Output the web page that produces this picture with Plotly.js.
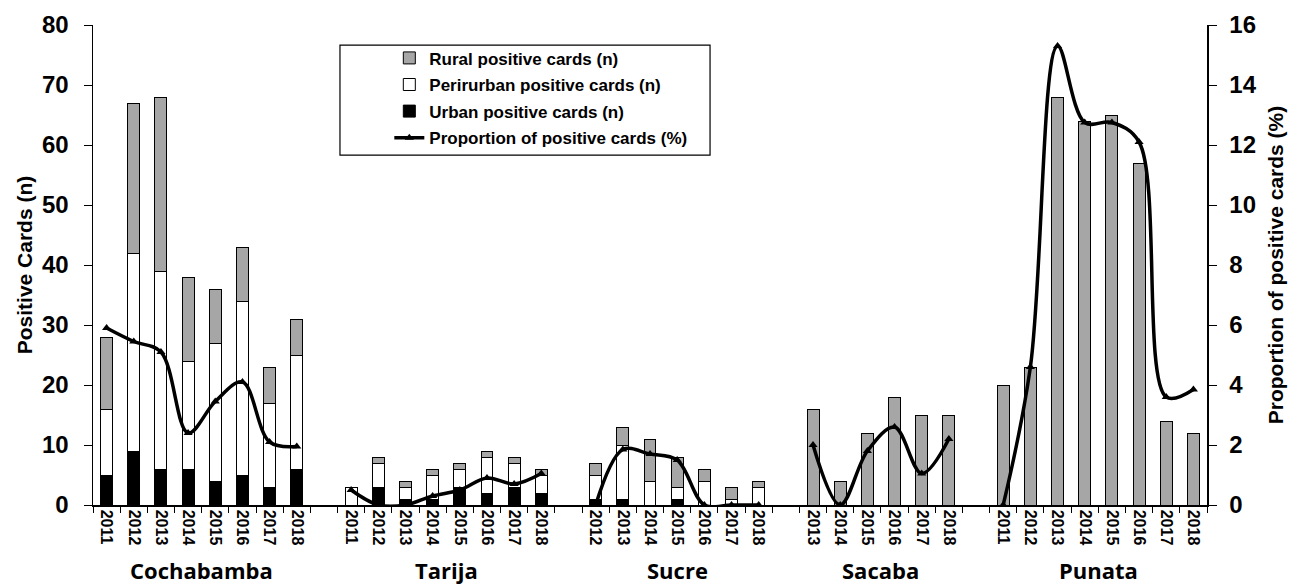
<!DOCTYPE html>
<html>
<head>
<meta charset="utf-8">
<script src="https://cdn.plot.ly/plotly-3.0.1.min.js"></script>
<style>html,body{margin:0;padding:0;background:#fff;}#chart{width:1300px;height:587px;}</style>
</head>
<body>
<div id="chart"></div>
<script>
// ---- Data ----
const groups = ['Cochabamba', 'Tarija', 'Sucre', 'Sacaba', 'Punata'];

const cochabambaYears = ['2011','2012','2013','2014','2015','2016','2017','2018'];
const cochabambaUrban = [5, 9, 6, 6, 4, 5, 3, 6];
const cochabambaPeri  = [11, 33, 33, 18, 23, 29, 14, 19];
const cochabambaRural = [12, 25, 29, 14, 9, 9, 6, 6];
const cochabambaProp  = [5.9, 5.45, 5.1, 2.4, 3.45, 4.1, 2.1, 1.95];

const tarijaYears = ['2011','2012','2013','2014','2015','2016','2017','2018'];
const tarijaUrban = [0, 3, 1, 1, 3, 2, 3, 2];
const tarijaPeri  = [3, 4, 2, 4, 3, 6, 4, 3];
const tarijaRural = [0, 1, 1, 1, 1, 1, 1, 1];
const tarijaProp  = [0.5, 0, 0, 0.3, 0.5, 0.9, 0.7, 1.05];

const sucreYears = ['2012','2013','2014','2015','2016','2017','2018'];
const sucreUrban = [1, 1, 0, 1, 0, 0, 0];
const sucrePeri  = [4, 9, 4, 2, 4, 1, 3];
const sucreRural = [2, 3, 7, 5, 2, 2, 1];
const sucreProp  = [0, 1.85, 1.7, 1.5, 0, 0, 0];

const sacabaYears = ['2013','2014','2015','2016','2017','2018'];
const sacabaUrban = [0, 0, 0, 0, 0, 0];
const sacabaPeri  = [0, 0, 0, 0, 0, 0];
const sacabaRural = [16, 4, 12, 18, 15, 15];
const sacabaProp  = [2.0, 0, 1.8, 2.6, 1.05, 2.2];

const punataYears = ['2011','2012','2013','2014','2015','2016','2017','2018'];
const punataUrban = [0, 0, 0, 0, 0, 0, 0, 0];
const punataPeri  = [0, 0, 0, 0, 0, 0, 0, 0];
const punataRural = [20, 23, 68, 64, 65, 57, 14, 12];
const punataProp  = [0, 4.6, 15.3, 12.75, 12.75, 12.1, 3.6, 3.85];

const groupData = [
  {years: cochabambaYears, urban: cochabambaUrban, peri: cochabambaPeri, rural: cochabambaRural, prop: cochabambaProp},
  {years: tarijaYears, urban: tarijaUrban, peri: tarijaPeri, rural: tarijaRural, prop: tarijaProp},
  {years: sucreYears, urban: sucreUrban, peri: sucrePeri, rural: sucreRural, prop: sucreProp},
  {years: sacabaYears, urban: sacabaUrban, peri: sacabaPeri, rural: sacabaRural, prop: sacabaProp},
  {years: punataYears, urban: punataUrban, peri: punataPeri, rural: punataRural, prop: punataProp}
];

// ---- Flatten into category slots with an empty slot between groups ----
const xKeys = [], tickText = [], urban = [], peri = [], rural = [], prop = [];
const groupCenters = [];
groupData.forEach((g, gi) => {
  if (gi > 0) {
    xKeys.push('gap' + gi); tickText.push('');
    urban.push(null); peri.push(null); rural.push(null); prop.push(null);
  }
  const start = xKeys.length;
  g.years.forEach((yr, i) => {
    xKeys.push(groups[gi] + ' ' + yr);
    tickText.push(yr);
    urban.push(g.urban[i]); peri.push(g.peri[i]); rural.push(g.rural[i]); prop.push(g.prop[i]);
  });
  groupCenters.push(start + (g.years.length - 1) / 2);
});

const barLine = {color: '#000', width: 1};
const FONT = 'Arial, "Liberation Sans", sans-serif';

const traces = [
  {type: 'bar', name: 'Urban positive cards (n)', x: xKeys, y: urban,
   marker: {color: '#000000', line: barLine}, legendrank: 3, legendgroup: 'u'},
  {type: 'bar', name: 'Perirurban positive cards (n)', x: xKeys, y: peri,
   marker: {color: '#ffffff', line: barLine}, legendrank: 2, legendgroup: 'p'},
  {type: 'bar', name: 'Rural positive cards (n)', x: xKeys, y: rural,
   marker: {color: '#a6a6a6', line: barLine}, legendrank: 1, legendgroup: 'r'},
  {type: 'scatter', mode: 'lines+markers', name: 'Proportion of positive cards (%)',
   x: xKeys, y: prop, yaxis: 'y2', connectgaps: false,
   line: {color: '#000', width: 3.5, shape: 'spline', smoothing: 1},
   marker: {symbol: 'triangle-up', size: 8, color: '#000'},
   legendrank: 4, legendgroup: 'l'}
];

const annotations = groups.map((name, gi) => ({
  text: name, x: groupCenters[gi], xref: 'x', y: -0.136, yref: 'paper',
  xanchor: 'center', yanchor: 'middle', showarrow: false,
  font: {family: '"Open Sans", sans-serif', size: 22, color: '#000', weight: 700}
}));

const layout = {
  width: 1300, height: 587,
  margin: {l: 93, r: 93, t: 25, b: 82},
  paper_bgcolor: '#fff', plot_bgcolor: '#fff',
  barmode: 'stack', bargap: 0.56,
  showlegend: true,
  legend: {
    x: 0.266, y: 0.968, xanchor: 'left', yanchor: 'top',
    traceorder: 'grouped', tracegroupgap: 1.5,
    bgcolor: 'rgba(0,0,0,0)', borderwidth: 0,
    font: {family: FONT, size: 17, color: '#000', weight: 700}
  },
  xaxis: {
    type: 'category', categoryorder: 'array', categoryarray: xKeys,
    tickmode: 'array', tickvals: xKeys, ticktext: tickText,
    tickson: 'boundaries', ticks: 'outside', ticklen: 6, tickcolor: '#000',
    tickangle: 90, showline: true, linecolor: '#000', linewidth: 1.5,
    showgrid: false, zeroline: false,
    tickfont: {family: FONT, size: 16, color: '#000', weight: 700},
    range: [-0.5, xKeys.length - 0.5]
  },
  yaxis: {
    range: [0, 80], dtick: 10, ticks: 'outside', ticklen: 8, tickcolor: '#000',
    ticklabelstandoff: 10,
    showline: true, linecolor: '#000', linewidth: 1.5, showgrid: false, zeroline: false,
    tickfont: {family: FONT, size: 24, color: '#000', weight: 700},
    title: {text: 'Positive Cards (n)', standoff: 3,
            font: {family: FONT, size: 21, color: '#000', weight: 700}}
  },
  yaxis2: {
    overlaying: 'y', side: 'right', range: [0, 16], dtick: 2,
    ticks: 'outside', ticklen: 8, tickcolor: '#000', ticklabelstandoff: 8,
    showline: true, linecolor: '#000', linewidth: 1.5, showgrid: false, zeroline: false,
    tickfont: {family: FONT, size: 24, color: '#000', weight: 700},
    title: {text: 'Proportion of positive cards (%)', standoff: 12,
            font: {family: FONT, size: 21, color: '#000', weight: 700}}
  },
  shapes: [{
    type: 'rect', xref: 'paper', yref: 'paper',
    x0: 0.2217, x1: 0.5539, y0: 0.729, y1: 0.958,
    line: {color: '#000', width: 1.2}, fillcolor: 'rgba(0,0,0,0)'
  }],
  annotations: annotations
};

Plotly.newPlot('chart', traces, layout, {displayModeBar: false, staticPlot: true});
</script>
</body>
</html>
